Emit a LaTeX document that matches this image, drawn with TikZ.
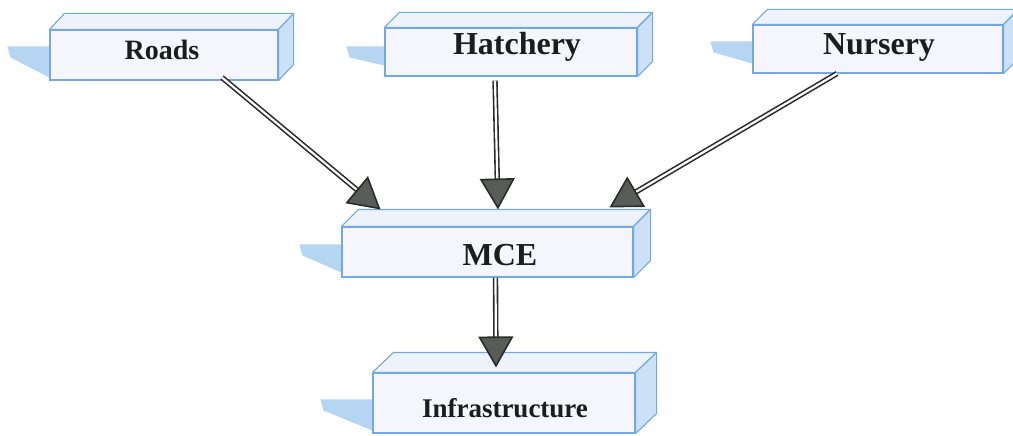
\documentclass[tikz,border=0pt]{standalone}
\usepackage{fontspec}
\setmainfont{Liberation Serif}
\usetikzlibrary{arrows.meta,calc,backgrounds}
\definecolor{boxline}{HTML}{74A8E2}
\definecolor{frontfill}{HTML}{F4F6FC}
\definecolor{topfill}{HTML}{EEF3FB}
\definecolor{sidefill}{HTML}{CCE0F6}
\definecolor{shadowfill}{HTML}{B5D5F3}
\definecolor{arrowfill}{HTML}{575C58}
\definecolor{arrowline}{HTML}{2A2C2A}
\definecolor{txt}{HTML}{1A1D1A}
\begin{document}
\begin{tikzpicture}[x=1pt,y=-1pt,
  face/.style={draw=boxline, fill=frontfill, line width=1.1pt, inner sep=0pt},
  lbl/.style={font=\bfseries, text=txt, inner sep=0pt, anchor=base},
  topface/.style={draw=boxline, fill=topfill, line width=1.1pt, line join=round},
  sideface/.style={draw=boxline, fill=sidefill, line width=1.1pt, line join=round},
  shadowpoly/.style={fill=shadowfill, draw=none},
  conn/.style={draw=arrowline, line width=1.6pt, double=white, double distance=2.2pt,
    -{Triangle[length=31pt,width=35pt,fill=arrowfill]}}]
\useasboundingbox (0,0) rectangle (1013,436);
\begin{scope}[on background layer]
  \fill[white] (0,0) rectangle (1013,436);
\end{scope}

% front faces
\node[face, minimum width=228pt, minimum height=50pt] (roads) at (164,55) {};
\node[face, minimum width=252pt, minimum height=48pt] (hatch) at (511,52) {};
\node[face, minimum width=250pt, minimum height=48pt] (nursery) at (878,49) {};
\node[face, minimum width=291pt, minimum height=50pt] (mce) at (487.5,252) {};
\node[face, minimum width=262pt, minimum height=60pt] (infra) at (504,403) {};

% top and side faces
\foreach \n/\dx/\dy in {roads/15/16, hatch/15/15, nursery/15/15, mce/17/17, infra/21/20} {
  \draw[topface] (\n.north west) -- ++(\dx,-\dy) -- ($(\n.north east)+(\dx,-\dy)$) -- (\n.north east) -- cycle;
  \draw[sideface] (\n.north east) -- ++(\dx,-\dy) -- ($(\n.south east)+(\dx,-\dy)$) -- (\n.south east) -- cycle;
}

% shadows
\begin{scope}[on background layer]
\foreach \n/\st/\sw/\sb in {roads/17/42/3, hatch/19/38/11, nursery/17/42/10, mce/18/42/5, infra/27/52/3} {
  \fill[shadowpoly] ($(\n.north west)+(0,\st)$) -- ++(-\sw,0) -- ++(3,11) -- ($(\n.south west)+(0,-\sb)$) -- cycle;
}
\end{scope}

% labels
\node[lbl, font=\fontsize{28}{30}\selectfont\bfseries] (roadsT) at (162,60) {Roads};
\node[lbl, font=\fontsize{32}{34}\selectfont\bfseries] (hatchT) at (517,55) {Hatchery};
\node[lbl, font=\fontsize{32}{34}\selectfont\bfseries] (nurseryT) at (879,55) {Nursery};
\node[lbl, font=\fontsize{32}{34}\selectfont\bfseries] (mceT) at (500,265) {MCE};
\node[lbl, font=\fontsize{27}{29}\selectfont\bfseries] (infraT) at (505,417) {Infrastructure};

% connectors
\draw[conn] ([xshift=58pt,yshift=3pt]roads.south) -- ([xshift=-107pt,yshift=17pt]mce.north);
\draw[conn] ([xshift=-16pt,yshift=-4pt]hatch.south) -- ([xshift=10.5pt,yshift=17pt]mce.north);
\draw[conn] ([xshift=-41pt]nursery.south) -- ([xshift=122pt,yshift=19pt]mce.north);
\draw[conn] ([xshift=8pt]mce.south) -- ([xshift=-8pt,yshift=5pt]infra.north);
\end{tikzpicture}
\end{document}
